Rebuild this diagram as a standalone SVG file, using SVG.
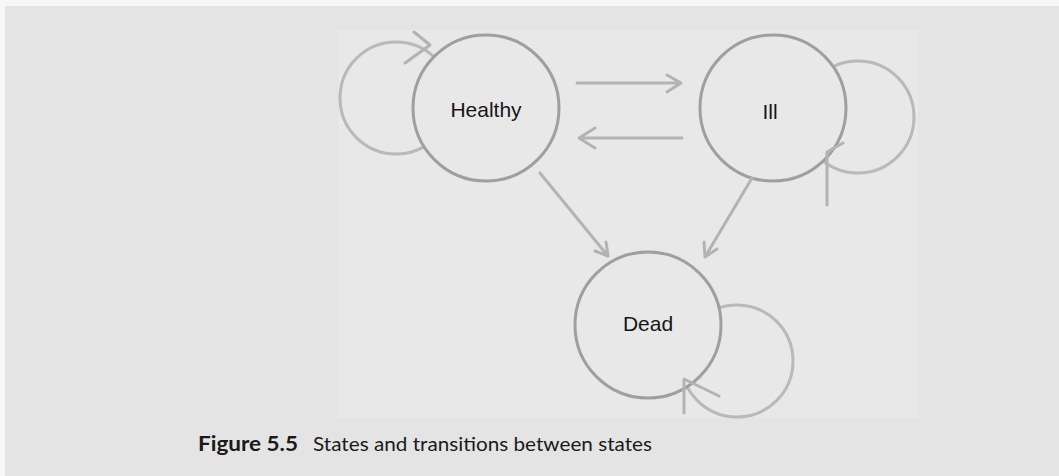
<svg xmlns="http://www.w3.org/2000/svg" width="1059" height="476" viewBox="0 0 1059 476">
  <style>
    .node { fill: #e8e8e8; stroke: #9f9f9f; stroke-width: 3; }
    .loop { fill: none; stroke: #b9b9b9; stroke-width: 3; }
    .edge { fill: none; stroke: #b3b3b3; stroke-width: 3; stroke-linecap: round; stroke-linejoin: round; }
    .label { font-family: "Liberation Sans", Arial, sans-serif; font-size: 21px; fill: #161616; text-anchor: middle; }
    .cap { font-family: "Lato", "Open Sans", sans-serif; font-size: 20px; fill: #1a1a1a; }
  </style>

  <!-- page and figure panel -->
  <rect x="0" y="0" width="1059" height="476" fill="#f7f7f7"/>
  <rect x="5" y="6" width="1054" height="470" fill="#e4e4e4"/>
  <rect x="338" y="30" width="580" height="388" fill="#e8e8e8"/>

  <!-- self-loops (drawn first, partly covered by the state circles) -->
  <g id="loops">
    <circle class="loop" cx="396" cy="98" r="56"/>
    <circle class="loop" cx="858" cy="117" r="56"/>
    <circle class="loop" cx="737" cy="361" r="56"/>
  </g>

  <!-- states -->
  <g id="healthy">
    <circle class="node" cx="486" cy="108" r="73"/>
    <text class="label" x="486" y="117">Healthy</text>
  </g>
  <g id="ill">
    <circle class="node" cx="773" cy="108" r="73"/>
    <text class="label" x="770" y="119">Ill</text>
  </g>
  <g id="dead">
    <circle class="node" cx="648" cy="325" r="73"/>
    <text class="label" x="648" y="331">Dead</text>
  </g>

  <!-- transitions -->
  <g id="connectors">
    <!-- Healthy -> Ill -->
    <path class="edge" d="M577 83 H681 M667 75 L681 83 L667 92"/>
    <!-- Ill -> Healthy -->
    <path class="edge" d="M682 138 H579 M595 128 L579 138 L595 148"/>
    <!-- Healthy -> Dead -->
    <path class="edge" d="M540 173 L608 256 M595 251 L608 256 L606 242"/>
    <!-- Ill -> Dead -->
    <path class="edge" d="M752 178 L705 257 M704 242 L705 257 L717 249"/>
    <!-- loop arrowheads -->
    <path class="edge" d="M414 32 L430 45 L405 63"/>
    <path class="edge" d="M827 205 L827 152 L843 143"/>
    <path class="edge" d="M684 413 L684 379 L719 396"/>
  </g>

  <!-- caption -->
  <text class="cap" x="198" y="451"><tspan font-weight="bold" textLength="100" lengthAdjust="spacingAndGlyphs">Figure 5.5</tspan><tspan x="313" textLength="339" lengthAdjust="spacingAndGlyphs">States and transitions between states</tspan></text>
</svg>
